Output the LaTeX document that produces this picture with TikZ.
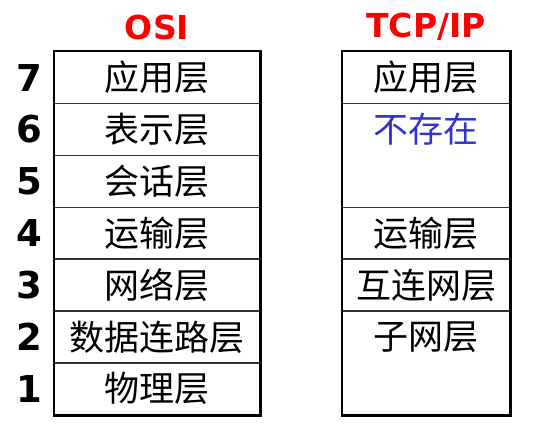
\documentclass[tikz,border=0pt]{standalone}
\usepackage{fontspec}
\setmainfont{DejaVu Sans}
\newfontfamily\cjk{Noto Sans CJK SC}
\definecolor{layerblue}{RGB}{51,51,204}
\definecolor{titlered}{RGB}{255,0,0}
\begin{document}
\begin{tikzpicture}[x=1pt,y=-1pt,
  cellbase/.style={draw=black!80, line width=1.4pt, inner sep=0pt, anchor=north west,
    minimum height=51.86pt, font=\cjk\fontsize{35}{35}\selectfont},
  osicell/.style={cellbase, minimum width=205pt},
  tcpcell/.style={cellbase, minimum width=167pt},
  frame/.style={draw=black, line width=2.6pt},
  layerno/.style={font=\bfseries\fontsize{37}{37}\selectfont, inner sep=0pt},
  heading/.style={font=\bfseries\fontsize{33}{33}\selectfont, text=titlered, inner sep=0pt},
  cjktext/.style={font=\cjk\fontsize{35}{35}\selectfont, inner sep=0pt}]
\useasboundingbox (0,0) rectangle (553,437);

% column headings
\node[heading] (hosi) at (157,27) {OSI};
\node[heading] (htcp) at (426,27) {TCP/IP};

% OSI reference model, layers 7 down to 1
\node[osicell] (o7) at (54,51)     {应用层};
\node[osicell] (o6) at (54,102.86) {表示层};
\node[osicell] (o5) at (54,154.71) {会话层};
\node[osicell] (o4) at (54,206.57) {运输层};
\node[osicell] (o3) at (54,258.43) {网络层};
\node[osicell] (o2) at (54,310.29) {数据连路层};
\node[osicell] (o1) at (54,362.14) {物理层};
\draw[frame] (o7.north west) rectangle (o1.south east);

% layer numbers
\foreach \n/\r in {7/o7,6/o6,5/o5,4/o4,3/o3,2/o2,1/o1}
  \node[layerno] (n\n) at (29,0 |- \r.center) {\n};

% TCP/IP model
\node[tcpcell] (t7) at (342,51) {应用层};
\node[tcpcell, minimum height=103.71pt] (t65) at (342,102.86) {};
\node[tcpcell] (t4) at (342,206.57) {运输层};
\node[tcpcell] (t3) at (342,258.43) {互连网层};
\node[tcpcell, minimum height=103.71pt] (t21) at (342,310.29) {};
\draw[frame] (t7.north west) rectangle (t21.south east);

\node[cjktext, text=layerblue] (t65txt) at (t65.center |- o6.center) {不存在};
\node[cjktext] (t21txt) at (t21.center |- o2.center) {子网层};
\end{tikzpicture}
\end{document}
